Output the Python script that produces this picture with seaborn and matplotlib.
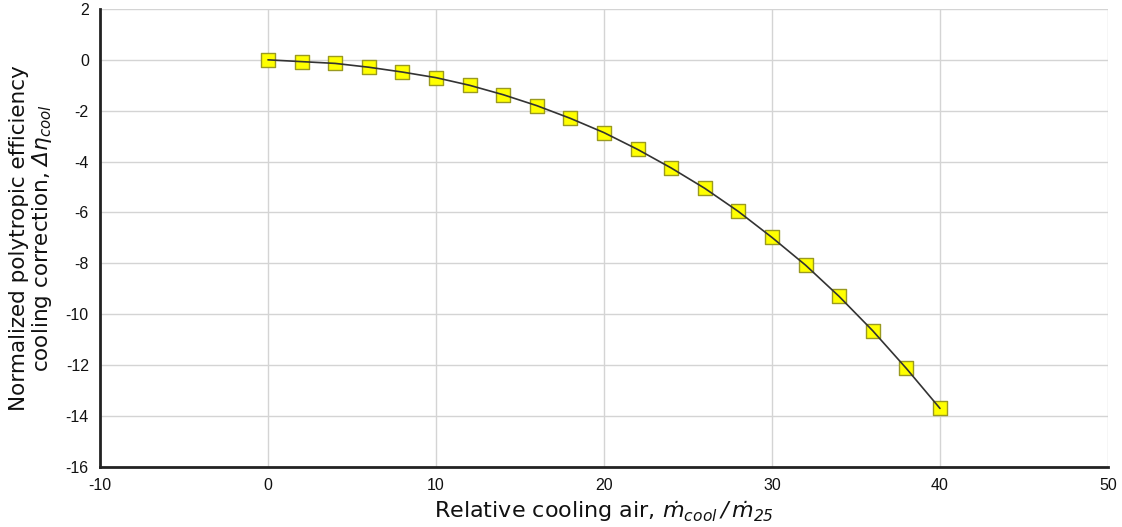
import matplotlib
matplotlib.use("Agg")
import matplotlib.pyplot as plt
import seaborn as sns
import pandas as pd

# Relative cooling air (%) and the resulting efficiency correction
cooling_air = [0, 2, 4, 6, 8, 10, 12, 14, 16, 18, 20, 22, 24, 26, 28, 30, 32, 34, 36, 38, 40]
eta_correction = [0.0, -0.07, -0.14, -0.29, -0.48, -0.70, -1.00, -1.37, -1.80, -2.30, -2.86,
                  -3.52, -4.25, -5.05, -5.96, -6.98, -8.07, -9.30, -10.65, -12.13, -13.70]

x_ticks = [-10, 0, 10, 20, 30, 40, 50]
y_ticks = [-16, -14, -12, -10, -8, -6, -4, -2, 0, 2]

df = pd.DataFrame({"cooling_air": cooling_air, "eta": eta_correction})

sns.set_theme(style="whitegrid")
plt.rcParams["font.family"] = ["DejaVu Sans"]
# all math symbols (including Greek capitals and digits) set in oblique
plt.rcParams["mathtext.fontset"] = "custom"
plt.rcParams["mathtext.rm"] = "DejaVu Sans:italic"
plt.rcParams["mathtext.it"] = "DejaVu Sans:italic"
plt.rcParams["mathtext.bf"] = "DejaVu Sans:bold:italic"

fig = plt.figure(figsize=(11.22, 5.27), dpi=100)
ax = fig.add_axes([0.0891, 0.114, 0.8984, 0.869])

sns.scatterplot(data=df, x="cooling_air", y="eta", marker="s", s=90,
                color="#ffff00", edgecolor="#9a9a20", linewidth=1.0, zorder=3, ax=ax)
sns.lineplot(data=df, x="cooling_air", y="eta", color="#333333", linewidth=1.2,
             zorder=4, ax=ax)

ax.set_xlim(-10, 50)
ax.set_ylim(-16, 2)
ax.set_xticks(x_ticks)
ax.set_yticks(y_ticks)
ax.set_xticklabels([str(t) for t in x_ticks], family="Liberation Sans", fontsize=11.5)
ax.set_yticklabels([str(t) for t in y_ticks], family="Liberation Sans", fontsize=11.5)

ax.grid(True, color="#d4d4d4", linewidth=1.0)
ax.set_facecolor("white")
for side in ["top", "right"]:
    ax.spines[side].set_visible(False)
for side in ["left", "bottom"]:
    ax.spines[side].set_visible(True)
    ax.spines[side].set_color("#222222")
    ax.spines[side].set_linewidth(2.0)

ax.tick_params(axis="both", which="major", length=6, width=1.0, color="#bbbbbb",
               pad=2, labelcolor="#111111")

ax.set_xlabel(r"Relative cooling air, $\dot{m}_{cool}\,/\,\dot{m}_{25}$",
              fontsize=16, color="#111111", labelpad=4)
ax.set_ylabel("Normalized polytropic efficiency\n"
              r"cooling correction, $\Delta\eta_{cool}$",
              fontsize=15.5, color="#111111", labelpad=8, linespacing=1.1)

fig.savefig("out.png", dpi=100)
